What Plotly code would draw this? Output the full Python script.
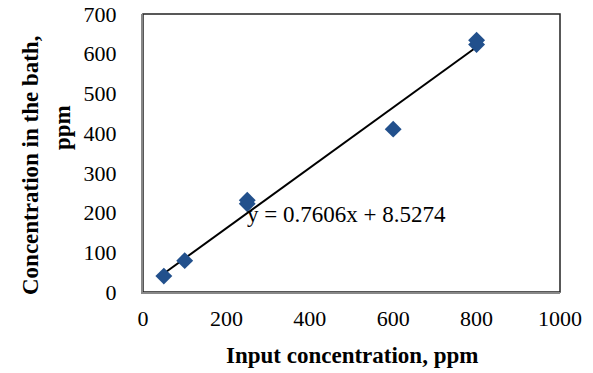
import plotly.graph_objects as go

# Data
input_ppm = [50, 100, 250, 250, 600, 800, 800]
bath_ppm = [40, 79, 222, 231, 410, 623, 634]
slope = 0.7606
intercept = 8.5274
trend_x = [50, 800]
x_ticks = [0, 200, 400, 600, 800, 1000]
y_ticks = [0, 100, 200, 300, 400, 500, 600, 700]

FONT = "Liberation Serif, Times New Roman, serif"

trend_y = [slope * v + intercept for v in trend_x]

W, H = 593, 373
ML, MR, MT, MB = 143, 33, 14, 81
pw = W - ML - MR
ph = H - MT - MB


def px_x(x):
    return (x - ML) / pw


def px_y(y):
    return (H - MB - y) / ph


fig = go.Figure()
fig.add_trace(go.Scatter(
    x=trend_x, y=trend_y, mode="lines",
    line=dict(color="black", width=2), showlegend=False, hoverinfo="skip"))
fig.add_trace(go.Scatter(
    x=input_ppm, y=bath_ppm, mode="markers",
    marker=dict(symbol="diamond", size=13, color="#22508c"),
    showlegend=False))

fig.update_layout(
    width=W, height=H,
    margin=dict(l=ML, r=MR, t=MT, b=MB, autoexpand=False),
    paper_bgcolor="white", plot_bgcolor="white",
    font=dict(family=FONT, size=22, color="black"),
    xaxis=dict(range=[0, 1000], tickvals=x_ticks, ticktext=[str(v) for v in x_ticks],
               showgrid=False, zeroline=False, showline=True, linecolor="#888888",
               linewidth=2, ticks="", ticklabelstandoff=6, automargin=False,
               tickfont=dict(family=FONT, size=22)),
    yaxis=dict(range=[0, 700], tickvals=y_ticks, ticktext=[str(v) for v in y_ticks],
               showgrid=False, zeroline=False, showline=True, linecolor="#888888",
               linewidth=2, ticks="", ticklabelstandoff=20, automargin=False,
               tickfont=dict(family=FONT, size=22)),
    shapes=[dict(type="rect", xref="paper", yref="paper", x0=0, y0=0, x1=1, y1=1,
                 line=dict(color="#222222", width=1.5), layer="below")],
    annotations=[
        dict(text="y = 0.7606x + 8.5274", x=245, y=196, xref="x", yref="y",
             xanchor="left", yanchor="middle", showarrow=False,
             font=dict(family=FONT, size=23)),
        dict(text="<b>Input concentration, ppm</b>", x=0.5, y=px_y(355), xref="paper",
             yref="paper", xanchor="center", yanchor="middle", showarrow=False,
             font=dict(family=FONT, size=23)),
        dict(text="<b>Concentration in the bath,</b>", x=px_x(31), y=px_y(166),
             xref="paper", yref="paper", xanchor="center", yanchor="middle",
             textangle=-90, showarrow=False, font=dict(family=FONT, size=23)),
        dict(text="<b>ppm</b>", x=px_x(62), y=px_y(128), xref="paper", yref="paper",
             xanchor="center", yanchor="middle",
             textangle=-90, showarrow=False, font=dict(family=FONT, size=23)),
    ],
)

fig.write_html("out.html", config={"displayModeBar": False},
               post_script="document.body.style.margin='0px';document.body.style.overflow='hidden';")
